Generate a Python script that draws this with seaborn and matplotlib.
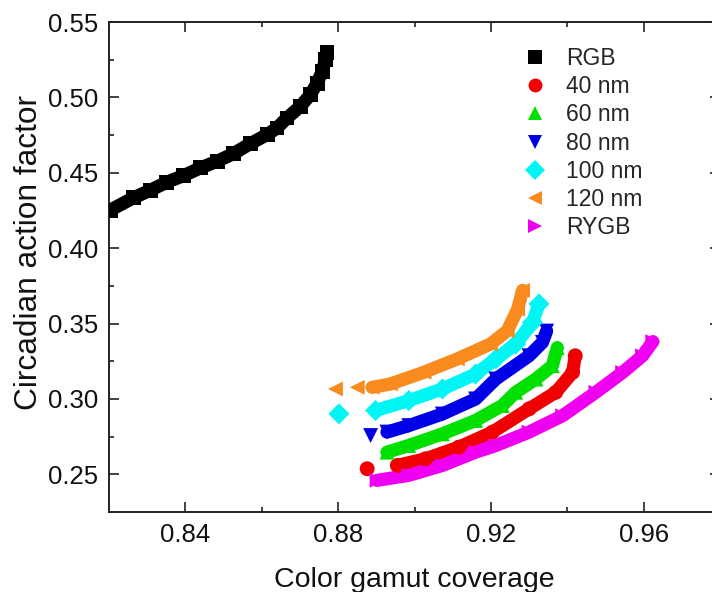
import matplotlib
matplotlib.use("Agg")
import matplotlib.pyplot as plt
from matplotlib.lines import Line2D
from matplotlib.ticker import MultipleLocator
import seaborn as sns

# ---- data: color gamut coverage (x) vs circadian action factor (y) ----
rgb_x = [0.8203, 0.8264, 0.8308, 0.8351, 0.8395, 0.8439, 0.8483, 0.8526, 0.8570,
         0.8614, 0.8640, 0.8666, 0.8701, 0.8727, 0.8745, 0.8758, 0.8767, 0.8771]
rgb_y = [0.4252, 0.4334, 0.4384, 0.4437, 0.4481, 0.4532, 0.4576, 0.4627, 0.4693,
         0.4753, 0.4797, 0.4863, 0.4940, 0.5017, 0.5095, 0.5171, 0.5249, 0.5300]

nm40_x = [0.8876, 0.8955, 0.9029, 0.9116, 0.9204, 0.9300, 0.9370, 0.9414, 0.9421]
nm40_y = [0.2537, 0.2559, 0.2603, 0.2680, 0.2780, 0.2934, 0.3044, 0.3176, 0.3286]

nm60_x = [0.8928, 0.8985, 0.9073, 0.9160, 0.9230, 0.9265, 0.9318, 0.9361, 0.9374]
nm60_y = [0.2647, 0.2691, 0.2768, 0.2857, 0.2956, 0.3044, 0.3132, 0.3220, 0.3340]

nm80_x = [0.8885, 0.8928, 0.8985, 0.9073, 0.9160, 0.9213, 0.9300, 0.9335, 0.9346]
nm80_y = [0.2757, 0.2780, 0.2823, 0.2900, 0.3000, 0.3132, 0.3286, 0.3375, 0.3450]

nm100_x = [0.8802, 0.8898, 0.8985, 0.9073, 0.9160, 0.9213, 0.9265, 0.9309, 0.9326]
nm100_y = [0.2901, 0.2923, 0.2989, 0.3066, 0.3165, 0.3265, 0.3364, 0.3507, 0.3630]

nm120_x = [0.8793, 0.8850, 0.8889, 0.8937, 0.9025, 0.9112, 0.9199, 0.9243, 0.9270, 0.9283]
nm120_y = [0.3066, 0.3077, 0.3077, 0.3099, 0.3177, 0.3265, 0.3364, 0.3452, 0.3595, 0.3720]

rygb_x = [0.8902, 0.8985, 0.9073, 0.9160, 0.9213, 0.9300, 0.9388, 0.9475, 0.9545,
          0.9597, 0.9624]
rygb_y = [0.2460, 0.2493, 0.2559, 0.2647, 0.2691, 0.2780, 0.2889, 0.3044, 0.3176,
          0.3286, 0.3380]

labels = ["RGB", "40 nm", "60 nm", "80 nm", "100 nm", "120 nm", "RYGB"]
colors = ["#000000", "#F00000", "#00E000", "#0000E6", "#00F5F5", "#F88A1E", "#F000F0"]
markers = ["s", "o", "^", "v", "D", "<", ">"]
xs = [rgb_x, nm40_x, nm60_x, nm80_x, nm100_x, nm120_x, rygb_x]
ys = [rgb_y, nm40_y, nm60_y, nm80_y, nm100_y, nm120_y, rygb_y]
# number of leading points drawn as separate markers (not joined to the band)
lead = [0, 1, 0, 1, 1, 2, 0]

sns.set_style("ticks")
plt.rcParams["font.family"] = ["Liberation Sans", "DejaVu Sans"]

fig = plt.figure(figsize=(7.12, 5.92), dpi=100)
ax = fig.add_axes([109 / 712, 80 / 592, 611 / 712, 490 / 592])

for x, y, c, m, n in zip(xs, ys, colors, markers, lead):
    sns.lineplot(x=x[n:], y=y[n:], sort=False, estimator=None, color=c, lw=9.5,
                 solid_joinstyle="round", solid_capstyle="round", ax=ax)
    sns.scatterplot(x=x, y=y, marker=m, color=c, s=115, edgecolor="none",
                    linewidth=0, ax=ax, zorder=3)

ax.set_xlim(0.82, 0.98)
ax.set_ylim(0.225, 0.55)
ax.xaxis.set_minor_locator(MultipleLocator(0.02))
ax.yaxis.set_minor_locator(MultipleLocator(0.025))
ax.set_xticks([0.84, 0.88, 0.92, 0.96])
ax.set_xticklabels(["0.84", "0.88", "0.92", "0.96"])
ax.set_yticks([0.25, 0.30, 0.35, 0.40, 0.45, 0.50, 0.55])
ax.set_yticklabels(["0.25", "0.30", "0.35", "0.40", "0.45", "0.50", "0.55"])

ax.tick_params(which="both", direction="in", top=True, right=True, width=1.2,
               colors="#222222", labelcolor="#111111")
ax.tick_params(which="major", length=7, labelsize=18.5, pad=8)
ax.tick_params(which="minor", length=3.5)
for s in ax.spines.values():
    s.set_linewidth(1.4)
    s.set_color("#222222")

ax.set_xlabel("Color gamut coverage", fontsize=20.5, labelpad=14, color="#111111")
ax.set_ylabel("Circadian action factor", fontsize=22.8, color="#111111")
ax.yaxis.set_label_coords(-0.107, 0.529)

handles = [Line2D([], [], ls="none", marker=m, color=c, markersize=10,
                  markeredgewidth=0) for m, c in zip(markers, colors)]
ax.legend(handles, labels, loc="upper left", bbox_to_anchor=(524 / 712, 1 - 47 / 592),
          bbox_transform=fig.transFigure, frameon=False, fontsize=16.5,
          handlelength=1.0, handletextpad=0.85, labelspacing=0.226, borderpad=0,
          borderaxespad=0)

fig.savefig("out.png", dpi=100)
